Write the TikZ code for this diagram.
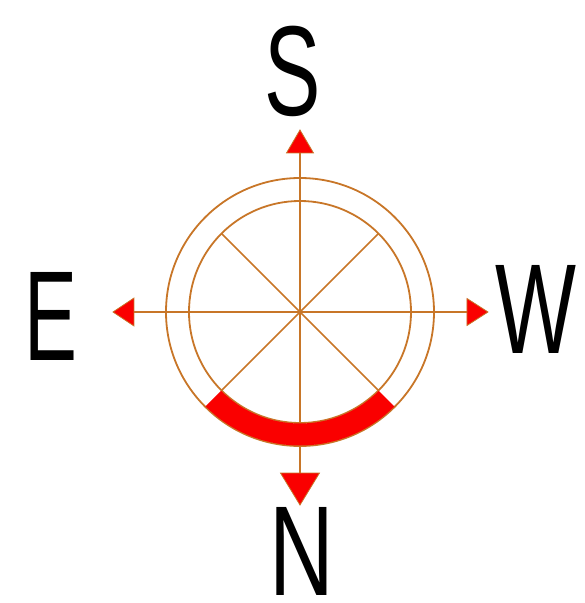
\documentclass[tikz,border=0pt]{standalone}
\usepackage{fontspec}
\setmainfont{Liberation Sans}
\definecolor{ochre}{RGB}{200,118,40}
\definecolor{brightred}{RGB}{250,0,0}
\begin{document}
\begin{tikzpicture}[x=1pt,y=1pt,
  ring/.style={draw=ochre,line width=1.8pt},
  spoke/.style={draw=ochre,line width=1.6pt},
  head/.style={fill=brightred,draw=ochre,line width=0.8pt,line join=miter},
  letter/.style={inner sep=0pt,anchor=base,font=\fontsize{128}{128}\selectfont}]
\useasboundingbox (-300,-291) rectangle (285,312);
\coordinate (c) at (0,0);
% circles
\draw[ring] (c) circle[radius=134];
\draw[ring] (c) circle[radius=111];
% diagonals
\foreach \a in {45,135,225,315}{\coordinate (d\a) at (\a:111); \draw[spoke] (c) -- (d\a);}
% axis ends
\coordinate (tS) at (0,159);
\coordinate (tN) at (0,-161);
\coordinate (tE) at (-166,0);
\coordinate (tW) at (167,0);
\draw[spoke] (tE) -- (tW);
\draw[spoke] (tS) -- (tN);
% red band over circles
\fill[brightred] (225:111.5) arc[start angle=225,end angle=315,radius=111.5]
  -- (315:133.5) arc[start angle=315,end angle=225,radius=133.5] -- cycle;
% arrowheads
\draw[head] (-13.5,159) -- (0,182) -- (13.5,159) -- cycle;
\draw[head] (-19.5,-161) -- (0,-193) -- (19.5,-161) -- cycle;
\draw[head] (-166,14) -- (-187,0) -- (-166,-14) -- cycle;
\draw[head] (167,13.5) -- (188,0) -- (167,-13.5) -- cycle;
% letters
\node[letter] (S) at (-7.5,196) {\scalebox{0.66}[1]{S}};
\node[letter] (E) at (-249,-48) {\scalebox{0.62}[1]{E}};
\node[letter] (W) at (236,-41) {\scalebox{0.67}[1]{W}};
\node[letter] (N) at (1.5,-283) {\scalebox{0.7}[1]{N}};
\end{tikzpicture}
\end{document}
